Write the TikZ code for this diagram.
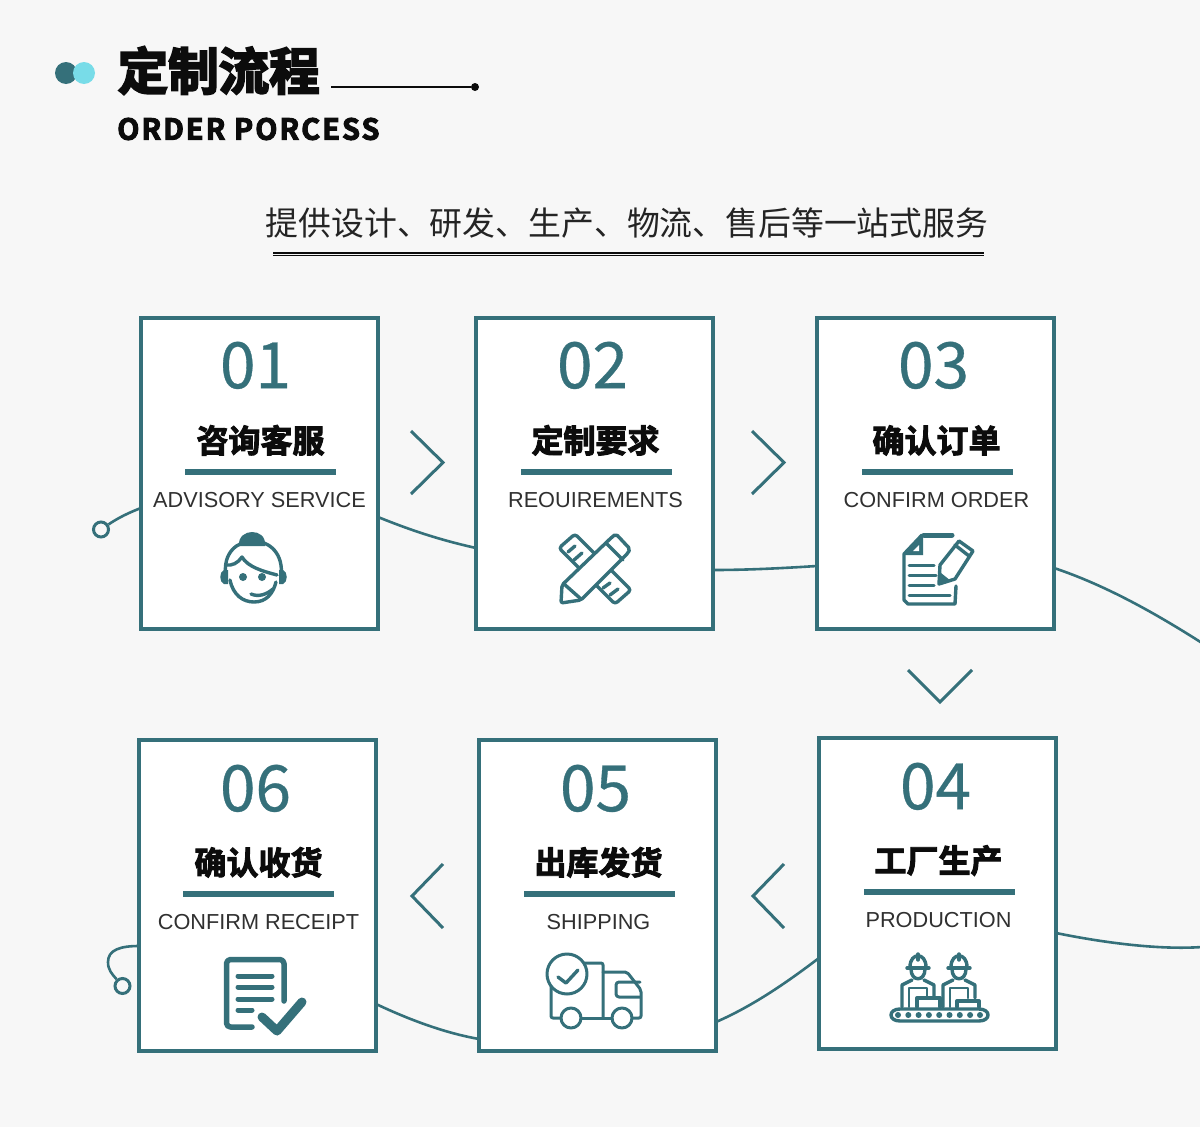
\documentclass[tikz,border=0pt]{standalone}
\usepackage{fontspec}
\setmainfont{Liberation Sans}
\newfontfamily\cjk{Noto Sans CJK SC}
\newfontfamily\cjknum[FakeBold=0.5]{Noto Sans CJK SC}
\newfontfamily\cjkheavy[FakeBold=4]{Noto Sans CJK SC Bold}
\newfontfamily\cjkcard[FakeBold=3]{Noto Sans CJK SC Bold}
\newfontfamily\latinheavy[LetterSpace=6.7,FakeBold=3.5]{Noto Sans CJK SC Bold}
\usepackage{xcolor}
\usepackage{tikz}
\usetikzlibrary{arrows.meta, positioning}
\definecolor{teal}{HTML}{35707A}
\definecolor{pagebg}{HTML}{F7F7F7}
\definecolor{aqua}{HTML}{78DCE8}
\definecolor{ink}{HTML}{0C0C0C}

\begin{document}
\begin{tikzpicture}[
    x=1pt, y=-1pt,
    card/.style={rectangle, draw=teal, fill=white, line width=4pt, inner sep=0pt,
                 outer sep=0pt, minimum width=237pt, minimum height=311pt},
    num/.style={inner sep=0pt, text=teal, text height=46pt, text depth=0pt,
                font=\cjknum\fontsize{64}{64}\selectfont},
    head/.style={inner sep=0pt, text=ink, text height=28pt, text depth=4pt,
                 font=\cjkcard\fontsize{32}{32}\selectfont},
    bar/.style={fill=teal, inner sep=0pt, outer sep=0pt, minimum width=151pt, minimum height=6pt},
    eng/.style={inner sep=0pt, text=ink!85, text height=16pt, text depth=0pt,
                font=\fontsize{21.7}{22}\selectfont},
    link/.style={draw=teal, line width=2.6pt},
    chev/.style={draw=teal, line width=3pt},
    ico/.style={draw=teal, line width=3.4pt, line join=round, line cap=round},
    hoop/.style={circle, draw=teal, line width=3pt, inner sep=0pt, minimum size=15pt}
]
    \useasboundingbox (0,0) rectangle (1200,1127);
    \fill[pagebg] (0,0) rectangle (1200,1127);

    % heading
    \fill[teal] (66,73) circle (11);
    \fill[aqua] (84,73) circle (11);
    \node[inner sep=0pt, anchor=west, text=ink, font=\cjkheavy\fontsize{50.5}{50}\selectfont] (title) at (117.5,70.5) {定制流程};
    \node[inner sep=0pt, anchor=west, text=ink, font=\latinheavy\fontsize{29}{29}\selectfont] (subtitle) at (117,129) {ORDER PORCESS};
    \node[circle, fill=ink, inner sep=0pt, minimum size=8pt] (tick) at (475,87) {};
    \coordinate (tickstart) at (331,87);
    \draw[ink, line width=1.2pt] (tickstart) -- (tick);
    \node[inner sep=0pt, text=ink!90, font=\cjk\fontsize{32.85}{33}\selectfont] (slogan) at (627,223) {提供设计、研发、生产、物流、售后等一站式服务};
    \draw[ink, line width=1.4pt] (273,253) -- (984,253);
    \draw[ink, line width=0.6pt] (273,255.5) -- (984,255.5);

    % cards
    \node[card] (b1) at (259.5,473.5) {};
    \node[card, right=98pt of b1] (b2) {};
    \node[card, right=104pt of b2] (b3) {};
    \node[card, below=109pt of b3, xshift=2pt] (b4) {};
    \node[card, left=103pt of b4, yshift=-2pt] (b5) {};
    \node[card, left=103pt of b5] (b6) {};

    \node[num, below=24pt of b1.north, xshift=-4pt] (n1) {01};
    \node[head, below=36pt of n1, xshift=5pt] (t1) {咨询客服};
    \node[bar, below=12pt of t1] (r1) {};
    \node[eng, below=16pt of r1, xshift=-1pt] (e1) {ADVISORY SERVICE};

    \node[num, below=24pt of b2.north, xshift=-2pt] (n2) {02};
    \node[head, below=36pt of n2, xshift=3pt] (t2) {定制要求};
    \node[bar, below=12pt of t2, xshift=1pt] (r2) {};
    \node[eng, below=16pt of r2, xshift=-1pt] (e2) {REOUIREMENTS};

    \node[num, below=24pt of b3.north, xshift=-2pt] (n3) {03};
    \node[head, below=36pt of n3, xshift=3pt] (t3) {确认订单};
    \node[bar, below=12pt of t3, xshift=1pt] (r3) {};
    \node[eng, below=16pt of r3, xshift=-1pt] (e3) {CONFIRM ORDER};

    \node[num, below=25pt of b4.north, xshift=-2pt] (n4) {04};
    \node[head, below=35pt of n4, xshift=3pt] (t4) {工厂生产};
    \node[bar, below=12pt of t4, xshift=1pt] (r4) {};
    \node[eng, below=16pt of r4, xshift=-1pt] (e4) {PRODUCTION};

    \node[num, below=25pt of b5.north, xshift=-2pt] (n5) {05};
    \node[head, below=35pt of n5, xshift=3pt] (t5) {出库发货};
    \node[bar, below=12pt of t5, xshift=1pt] (r5) {};
    \node[eng, below=16pt of r5, xshift=-1pt] (e5) {SHIPPING};

    \node[num, below=25pt of b6.north, xshift=-2pt] (n6) {06};
    \node[head, below=35pt of n6, xshift=3pt] (t6) {确认收货};
    \node[bar, below=12pt of t6] (r6) {};
    \node[eng, below=16pt of r6] (e6) {CONFIRM RECEIPT};

    % wavy line behind the cards
    \node[hoop] (s1) at (101,529.5) {};
    \node[hoop] (s2) at (122.5,986) {};
    \coordinate (out1) at (1202,643);
    \coordinate (out2) at (1202,947);
    \draw[link] (s1) .. controls (118,518) and (128,513) .. ([yshift=-34.5pt]b1.west);
    \draw[link] ([yshift=-43.5pt]b1.east) .. controls (410,530) and (440,540) .. ([yshift=-74.5pt]b2.west);
    \draw[link] ([yshift=-96.5pt]b2.east) .. controls (750,570) and (785,568) .. ([yshift=-92.5pt]b3.west);
    \draw[link] ([yshift=-94.5pt]b3.east) .. controls (1105,585) and (1155,613) .. (out1);
    \draw[link] ([yshift=-39.5pt]b4.east) .. controls (1105,943) and (1160,950) .. (out2);
    \draw[link] ([yshift=-64.5pt]b4.west) .. controls (790,980) and (755,1005) .. ([yshift=-126.5pt]b5.east);
    \draw[link] ([yshift=-143.5pt]b5.west) .. controls (445,1033) and (410,1020) .. ([yshift=-108.5pt]b6.east);
    \draw[link] ([yshift=-50.5pt]b6.west) .. controls (120,946) and (108,950) .. (108,962) .. controls (108,970) and (112,974) .. (s2);

    % chevrons between the cards
    \draw[chev] (411,431) -- (443,462.5) -- (411,494);
    \draw[chev] (752,431) -- (784,462.5) -- (752,494);
    \draw[chev] (908,670) -- (940,702) -- (972,670);
    \draw[chev] (443,864) -- (412,896) -- (443,928);
    \draw[chev] (784,864) -- (753,896) -- (784,928);

    % icon 01
    \fill[teal] (239,546) .. controls (238,536) and (246,532) .. (252,532) .. controls (259,532) and (266,536) .. (265,546) -- cycle;
    \fill[teal] (224,570) -- (228,570) -- (228,584) -- (224,584) .. controls (219,582) and (219,572) .. (224,570) -- cycle;
    \fill[teal] (283,570) -- (279,570) -- (279,584) -- (283,584) .. controls (288,582) and (288,572) .. (283,570) -- cycle;
    \draw[ico] (226,577) .. controls (222,552) and (238,541) .. (253,541) .. controls (270,541) and (284,554) .. (281,577);
    \draw[ico] (226,565) .. controls (232,566) and (238,563) .. (242,557) .. controls (248,567) and (262,571) .. (277,575);
    \draw[ico] (230,580) .. controls (233,595) and (243,602) .. (254,602) .. controls (266,602) and (273,594) .. (276,582);
    \fill[teal] (243,577) circle (4);
    \fill[teal] (262,577) circle (4);
    \draw[ico] (251,594) .. controls (258,597) and (266,595) .. (273,589);

    % icon 02
    \draw[ico, fill=white, rounded corners=3pt] (559,548) -- (575,534) -- (631,590) -- (615,604) -- cycle;
    \draw[ico] (568,552) -- (575,546) (574,560) -- (582,553);
    \draw[ico] (603,588) -- (610,583) (610,595) -- (618,589);
    \draw[ico, fill=white, rounded corners=2pt] (562,585) -- (612,537) -- (616,534) -- (630,549) -- (628,553) -- (581,600) -- (561,603) -- cycle;
    \draw[ico] (606,543) -- (623,560);
    \draw[ico] (564,584) -- (581,599);

    % icon 03
    \draw[ico, line width=5pt] (924,535) -- (952,535);
    \draw[ico] (922,535) -- (904,554) -- (904,600) -- (908,604) -- (955,604) -- (956,586);
    \fill[teal] (923,534) -- (923,555) -- (904,555) -- cycle;
    \fill[white] (919,545) -- (919,551) -- (913,551) -- cycle;
    \draw[ico, line width=3pt] (909,565) -- (934,565) (909,575) -- (936,575) (909,585) -- (934,585) (909,595) -- (950,595);
    \draw[ico, fill=white] (940,565) -- (959,541) -- (973,551) -- (955,579) -- (939,584) -- cycle;
    \draw[ico] (955,545) -- (969,556);
    \fill[teal] (941,573) -- (951,581) -- (939,585) -- cycle;

    % icon 04
    \draw[ico] (900,1009) -- (979,1009) .. controls (991,1009) and (991,1021) .. (979,1021) -- (900,1021) .. controls (888,1021) and (888,1009) .. (900,1009) -- cycle;
    \foreach \xx in {898,908.3,918.6,928.9,939.2,949.5,959.8,970.1,980}
        \fill[teal] (\xx,1015) circle (3);
    \foreach \xx in {918,959} {
        \draw[ico] (\xx-8,967) .. controls (\xx-8,952) and (\xx+8,952) .. (\xx+8,967);
        \draw[ico] (\xx-11,968) -- (\xx+11,968);
        \draw[ico] (\xx,954) -- (\xx,960);
        \draw[ico] (\xx-7,969) .. controls (\xx-7,982) and (\xx+7,982) .. (\xx+7,969);
        \draw[ico] (\xx-6,980) -- (\xx-16,985) -- (\xx-16,1007);
        \draw[ico] (\xx+6,980) -- (\xx+16,985) -- (\xx+16,998);
        \draw[ico, line width=2.6pt] (\xx-9,1007) -- (\xx-9,988) -- (\xx+9,988) -- (\xx+9,998);
    }
    \draw[ico, fill=white] (917,1007) -- (917,998) -- (940,998) -- (940,1007);
    \draw[ico, fill=white] (957,1007) -- (957,1001) -- (979,1001) -- (979,1007);

    % icon 05
    \draw[ico, line width=3pt, rounded corners=2pt] (551,985) -- (551,1018) -- (561,1018);
    \draw[ico, line width=3pt, rounded corners=2pt] (580,963) -- (603,963) -- (603,1018);
    \draw[ico, line width=3pt] (581,1018) -- (612,1018);
    \draw[ico, line width=3pt, rounded corners=2pt] (603,972) -- (627,972) -- (641,990) -- (641,1018) -- (632,1018);
    \draw[ico, line width=3pt, rounded corners=3pt] (640,982) -- (616,982) -- (616,997) -- (640,997);
    \draw[ico, line width=3pt] (571,1018) circle (10);
    \draw[ico, line width=3pt] (622,1018) circle (10);
    \draw[ico, line width=3pt, fill=white] (567,974) circle (20);
    \draw[ico] (558,977) -- (566,983) -- (578,970);

    % icon 06
    \draw[ico, line width=5.5pt, rounded corners=4pt] (252,1027) -- (226.5,1027) -- (226.5,959.5) -- (284,959.5) -- (284,1001);
    \draw[ico, line width=5pt] (238,976) -- (272,976) (238,987) -- (272,987) (238,999) -- (272,999) (238,1010) -- (252,1010);
    \draw[white, line width=15pt, line cap=round, line join=round] (262,1017) -- (277,1031) -- (302,1002);
    \draw[ico, line width=9pt] (262,1017) -- (277,1031) -- (302,1002);
\end{tikzpicture}
\end{document}
